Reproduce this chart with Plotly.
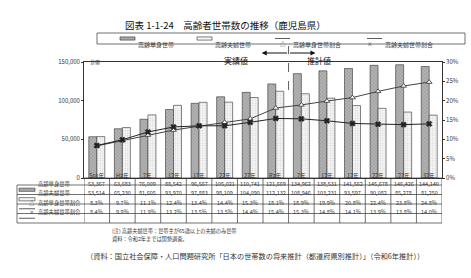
import plotly.graph_objects as go

categories = ["S60年", "H2年", "7年", "12年", "17年", "22年", "27年",
              "R2年", "7年", "12年", "17年", "22年", "27年", "32年"]
single = [53367, 63683, 76009, 88542, 96567, 105021, 110741,
          121669, 134962, 138531, 141562, 145678, 146426, 144140]
couple = [53514, 65230, 81605, 93970, 97883, 98109, 104090,
          112132, 108946, 103231, 93597, 90082, 85278, 81250]
single_ratio = [8.3, 9.7, 11.1, 12.4, 13.4, 14.4, 15.3,
                18.1, 18.9, 19.9, 20.8, 22.4, 23.8, 24.8]
couple_ratio = [8.4, 9.9, 11.9, 13.2, 13.5, 13.5, 14.4,
                15.4, 15.3, 14.8, 14.1, 13.9, 13.8, 14.0]
series_names = ["高齢単身世帯", "高齢夫婦世帯", "高齢単身世帯割合", "高齢夫婦世帯割合"]
left_ticks = [0, 50000, 100000, 150000]
right_ticks = [0, 5, 10, 15, 20, 25, 30]

FONT = "Noto Sans CJK JP"
INK = "#333333"
W, H = 471, 278
L, R, T, B = 84, 29, 62, 100
PW, PH = W - L - R, H - T - B
xs = list(range(len(categories)))


def py(p):  # pixel y -> paper y
    return (H - B - p) / PH


def px(p):  # pixel x -> paper x
    return (p - L) / PW


SINGLE_FILL = "#a8a8a8"
COUPLE_FILL = "#f4f4f4"

fig = go.Figure()
fig.add_trace(go.Bar(
    x=xs, y=single, name=series_names[0],
    marker=dict(color=SINGLE_FILL, line=dict(color=INK, width=0.6),
                pattern=dict(shape="x", fgcolor="#6a6a6a", bgcolor="#b4b4b4",
                             size=2.5, solidity=0.3)),
))
fig.add_trace(go.Bar(
    x=xs, y=couple, name=series_names[1],
    marker=dict(color=COUPLE_FILL, line=dict(color=INK, width=0.6),
                pattern=dict(shape=".", fgcolor="#b0b0b0", bgcolor="#f8f8f8",
                             size=2.5, solidity=0.3)),
))
fig.add_trace(go.Scatter(
    x=xs, y=single_ratio, name=series_names[2], yaxis="y2", mode="lines+markers",
    line=dict(color="#444444", width=1),
    marker=dict(symbol="triangle-up", size=5, color="white",
                line=dict(color="#333333", width=0.8)),
))
fig.add_trace(go.Scatter(
    x=xs, y=couple_ratio, name=series_names[3], yaxis="y2", mode="lines+markers",
    line=dict(color="#222222", width=1),
    marker=dict(symbol="x", size=5, color="#222222",
                line=dict(color="#222222", width=0.5)),
))

shapes = []
annotations = []


def icon(kind, x0p, x1p, ypix):
    """Small legend glyph between pixel x0p..x1p at pixel row ypix."""
    yc = py(ypix)
    if kind < 2:
        fill = SINGLE_FILL if kind == 0 else COUPLE_FILL
        shapes.append(dict(type="rect", xref="paper", yref="paper", x0=px(x0p), x1=px(x1p),
                           y0=yc - 1.6 / PH, y1=yc + 1.6 / PH, fillcolor=fill,
                           line=dict(color=INK, width=0.6)))
    else:
        shapes.append(dict(type="line", xref="paper", yref="paper", x0=px(x0p), x1=px(x1p),
                           y0=yc, y1=yc, line=dict(color=INK, width=0.8)))
        annotations.append(dict(x=px((x0p + x1p) / 2), y=yc, xref="paper", yref="paper",
                                text="△" if kind == 2 else "×", showarrow=False,
                                font=dict(size=5.5, color=INK, family=FONT)))


# ---- legend box (top) ----
leg_top, leg_bot = 33, 44
shapes.append(dict(type="rect", xref="paper", yref="paper", x0=px(97), x1=px(465),
                   y0=py(leg_bot), y1=py(leg_top), line=dict(color=INK, width=0.7),
                   fillcolor="white"))
leg_ymid = (leg_top + leg_bot) / 2
leg_icon_x = [120, 197, 275, 367]
for k, x0p in enumerate(leg_icon_x):
    icon(k, x0p, x0p + 15, leg_ymid)
    annotations.append(dict(x=px(x0p + 16), y=py(leg_ymid), xref="paper", yref="paper",
                            text=series_names[k], showarrow=False, xanchor="left",
                            font=dict(size=6, color=INK, family=FONT)))

# ---- table grid ----
rows_px = [178, 185, 194.5, 204, 213.5, 223]
rows = [py(p) for p in rows_px]
tbl_left = px(17)
for i, yv in enumerate(rows):
    x0 = 0 if i == 0 else tbl_left
    shapes.append(dict(type="line", xref="paper", yref="paper", x0=x0, x1=1,
                       y0=yv, y1=yv, line=dict(color=INK, width=0.7)))
for k in range(len(categories) + 1):
    shapes.append(dict(type="line", xref="x", yref="paper", x0=k - 0.5, x1=k - 0.5,
                       y0=rows[0], y1=rows[-1], line=dict(color=INK, width=0.7)))
shapes.append(dict(type="line", xref="paper", yref="paper", x0=tbl_left, x1=tbl_left,
                   y0=rows[1], y1=rows[-1], line=dict(color=INK, width=0.7)))

for i, c in enumerate(categories):
    annotations.append(dict(x=i, y=(rows[0] + rows[1]) / 2, xref="x", yref="paper",
                            text=c, showarrow=False, font=dict(size=5.5, color=INK, family=FONT)))
row_values = [
    [f"{v:,}" for v in single],
    [f"{v:,}" for v in couple],
    [f"{v:.1f}%" for v in single_ratio],
    [f"{v:.1f}%" for v in couple_ratio],
]
for r, vals in enumerate(row_values):
    ymid_px = (rows_px[r + 1] + rows_px[r + 2]) / 2
    yc = py(ymid_px)
    for i, t in enumerate(vals):
        annotations.append(dict(x=i, y=yc, xref="x", yref="paper", text=t, showarrow=False,
                                font=dict(size=5.5, color=INK, family=FONT)))
    annotations.append(dict(x=px(36), y=yc, xref="paper", yref="paper", text=series_names[r],
                            showarrow=False, xanchor="left",
                            font=dict(size=5.3, color=INK, family=FONT)))
    icon(r, 19, 35, ymid_px)

# ---- 実績値 / 推計値 divider ----
div = 7.5
shapes.append(dict(type="line", xref="x", yref="paper", x0=div, x1=div,
                   y0=py(90), y1=py(46), line=dict(color=INK, width=0.8, dash="dash")))
for tip in (6.45, 8.55):
    annotations.append(dict(x=tip, y=py(53), xref="x", yref="paper", ax=div, ay=0,
                            axref="x", ayref="pixel", text="", showarrow=True,
                            arrowhead=2, arrowsize=1, arrowwidth=1, arrowcolor="#111111"))
annotations.append(dict(x=px(236), y=py(53), xref="paper", yref="paper", text="実績値",
                        showarrow=False, font=dict(size=8, color="#111111", family=FONT)))
annotations.append(dict(x=px(333), y=py(53), xref="paper", yref="paper", text="推計値",
                        showarrow=False, font=dict(size=8, color="#111111", family=FONT)))

# ---- titles / notes ----
annotations.append(dict(x=px(225), y=py(16), xref="paper", yref="paper",
                        text="図表 1-1-24　高齢者世帯数の推移（鹿児島県）", showarrow=False,
                        font=dict(size=9.5, color="#111111", family=FONT)))
annotations.append(dict(x=px(88), y=py(56), xref="paper", yref="paper", text="世帯",
                        showarrow=False, xanchor="left", font=dict(size=5, color=INK, family=FONT)))
annotations.append(dict(x=px(110), y=py(237), xref="paper", yref="paper",
                        text="(注) 高齢夫婦世帯：世帯主が65歳以上の夫婦のみ世帯", showarrow=False,
                        xanchor="left", font=dict(size=5.2, color=INK, family=FONT)))
annotations.append(dict(x=px(110), y=py(245), xref="paper", yref="paper",
                        text="資料：令和2年までは国勢調査。", showarrow=False,
                        xanchor="left", font=dict(size=5.2, color=INK, family=FONT)))
annotations.append(dict(x=px(255), y=py(263), xref="paper", yref="paper",
                        text="（資料：国立社会保障・人口問題研究所「日本の世帯数の将来推計（都道府県別推計）」（令和6年推計））",
                        showarrow=False, font=dict(size=7.2, color=INK, family=FONT)))

fig.update_layout(
    width=W, height=H, margin=dict(l=L, r=R, t=T, b=B, autoexpand=False),
    paper_bgcolor="white", plot_bgcolor="white",
    font=dict(family=FONT, color=INK, size=6),
    barmode="group", bargap=0.375, bargroupgap=0,
    showlegend=False,
    xaxis=dict(range=[-0.5, 13.5], showticklabels=False, ticks="", showgrid=False,
               zeroline=False, showline=True, linecolor=INK, linewidth=0.8, mirror=True),
    yaxis=dict(range=[0, 150000], tickvals=left_ticks,
               ticktext=[f"{v:,}" for v in left_ticks], ticks="outside", ticklen=2,
               tickcolor=INK, showgrid=False, zeroline=False, showline=True,
               linecolor=INK, linewidth=0.8, tickfont=dict(size=6)),
    yaxis2=dict(range=[0, 30], tickvals=right_ticks, ticktext=[f"{v}%" for v in right_ticks],
                overlaying="y", side="right", ticks="outside", ticklen=2, tickcolor=INK,
                showgrid=False, zeroline=False, showline=True, linecolor=INK, linewidth=0.8,
                tickfont=dict(size=6)),
    shapes=shapes, annotations=annotations,
)

fig.write_html("out.html")
